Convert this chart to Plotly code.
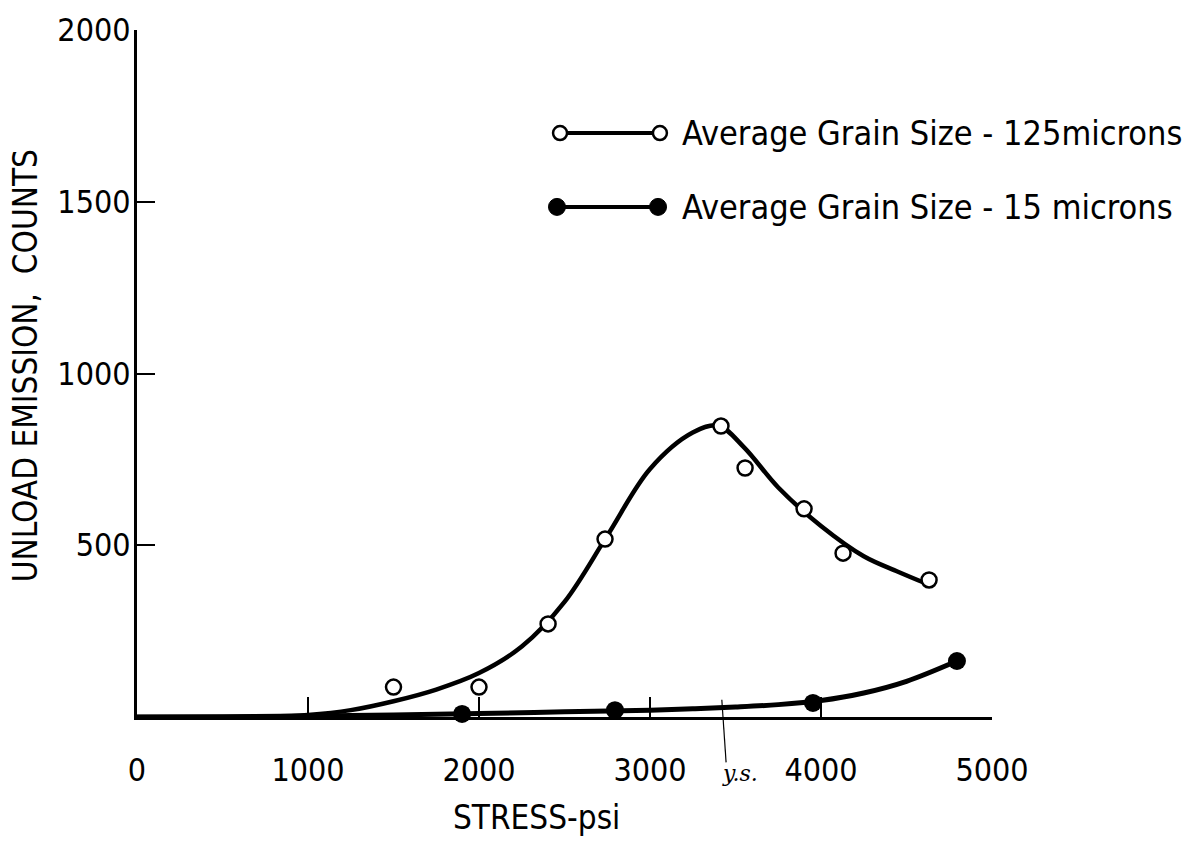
import plotly.graph_objects as go

# Measured acoustic emission on unloading vs. applied stress
stress_125 = [1500, 2000, 2404, 2737, 3415, 3556, 3901, 4129, 4632]
counts_125 = [87, 87, 271, 518, 847, 725, 606, 477, 399]

stress_15 = [1901, 2795, 3953, 4795]
counts_15 = [9, 20, 41, 163]

# Hand-faired trend curves through each set of measurements
fit_x_125 = [0, 500, 750, 1000, 1250, 1500, 1750, 2000, 2250, 2500, 2750, 3000,
             3250, 3400, 3550, 3750, 4000, 4250, 4450, 4608]
fit_y_125 = [0, 0, 1, 6, 20, 46, 80, 128, 205, 335, 528, 722,
             828, 848, 785, 668, 556, 468, 423, 390]

fit_x_15 = [0, 500, 1000, 1500, 2000, 2500, 3000, 3250, 3500, 3750, 4000, 4250, 4500, 4795]
fit_y_15 = [0, 1, 3, 6, 10, 15, 20, 24, 29, 36, 48, 70, 104, 163]

x_ticks = [0, 1000, 2000, 3000, 4000, 5000]
y_ticks = [0, 500, 1000, 1500, 2000]

legend_labels = ["Average Grain Size - 125microns", "Average Grain Size - 15 microns"]
yield_stress = 3420

FONT = "Liberation Sans Narrow, DejaVu Sans Condensed, sans-serif"

fig = go.Figure()

fig.add_trace(go.Scatter(x=fit_x_15, y=fit_y_15, mode="lines",
                         line=dict(color="black", width=5, shape="spline", smoothing=1.0),
                         hoverinfo="skip", showlegend=False))
fig.add_trace(go.Scatter(x=fit_x_125, y=fit_y_125, mode="lines",
                         line=dict(color="black", width=4.5, shape="spline", smoothing=1.0),
                         hoverinfo="skip", showlegend=False))
fig.add_trace(go.Scatter(x=stress_125, y=counts_125, mode="markers",
                         marker=dict(symbol="circle", size=15, color="white",
                                     line=dict(color="black", width=2.5)),
                         name=legend_labels[0], showlegend=False, cliponaxis=False))
fig.add_trace(go.Scatter(x=stress_15, y=counts_15, mode="markers",
                         marker=dict(symbol="circle", size=18, color="black"),
                         name=legend_labels[1], showlegend=False, cliponaxis=False))

# Key drawn by hand: a marker at each end of a short line, then the label
shapes = []
annotations = []
key_rows = [
    dict(y=1700, x0=2474, x1=3058, fill="white", size=14, lw=2.5, label=legend_labels[0]),
    dict(y=1485, x0=2456, x1=3047, fill="black", size=17, lw=1, label=legend_labels[1]),
]
for row in key_rows:
    shapes.append(dict(type="line", xref="x", yref="y", x0=row["x0"], x1=row["x1"],
                       y0=row["y"], y1=row["y"], line=dict(color="black", width=4)))
    for cx in (row["x0"], row["x1"]):
        r = row["size"] / 2
        shapes.append(dict(type="circle", xref="x", yref="y",
                           xsizemode="pixel", ysizemode="pixel",
                           xanchor=cx, yanchor=row["y"],
                           x0=-r, x1=r, y0=-r, y1=r,
                           fillcolor=row["fill"],
                           line=dict(color="black", width=row["lw"])))
    annotations.append(dict(x=3175, y=row["y"], xref="x", yref="y", text=row["label"],
                            showarrow=False, xanchor="left", yanchor="middle",
                            font=dict(family=FONT, size=34, color="black")))

# Yield-stress mark below the axis
shapes.append(dict(type="line", xref="x", yref="paper", x0=yield_stress, x1=yield_stress + 25,
                   y0=0.025, y1=-0.066, line=dict(color="black", width=1.2)))
annotations.append(dict(x=0.705, y=-0.082, xref="paper", yref="paper", text="y.s.",
                        showarrow=False, xanchor="center", yanchor="middle",
                        font=dict(family="DejaVu Serif, serif", size=22, color="black",
                                  style="italic")))

annotations.append(dict(x=-0.131, y=0.512, xref="paper", yref="paper",
                        text="UNLOAD EMISSION,  COUNTS", textangle=-90, showarrow=False,
                        xanchor="center", yanchor="middle",
                        font=dict(family=FONT, size=33, color="black")))
annotations.append(dict(x=0.467, y=-0.146, xref="paper", yref="paper",
                        text="STRESS-psi", showarrow=False,
                        xanchor="center", yanchor="middle",
                        font=dict(family=FONT, size=33, color="black")))

fig.update_layout(
    width=1189, height=849,
    margin=dict(l=137, r=197, t=30, b=132),
    paper_bgcolor="white", plot_bgcolor="white",
    shapes=shapes, annotations=annotations,
    font=dict(family=FONT, size=30, color="black"),
)
fig.update_xaxes(range=[0, 5000], tickvals=x_ticks, ticktext=[str(v) for v in x_ticks],
                 ticks="inside", ticklen=20, tickwidth=2, tickcolor="black",
                 showline=True, linewidth=3, linecolor="black",
                 showgrid=False, zeroline=False, ticklabelstandoff=23,
                 tickfont=dict(family=FONT, size=32))
fig.update_yaxes(range=[0, 2000], tickvals=y_ticks,
                 ticktext=["", "500", "1000", "1500", "2000"],
                 ticks="inside", ticklen=18, tickwidth=2, tickcolor="black",
                 showline=True, linewidth=3, linecolor="black",
                 showgrid=False, zeroline=False, ticklabelstandoff=-3,
                 tickfont=dict(family=FONT, size=32))

fig.write_html("out.html")
